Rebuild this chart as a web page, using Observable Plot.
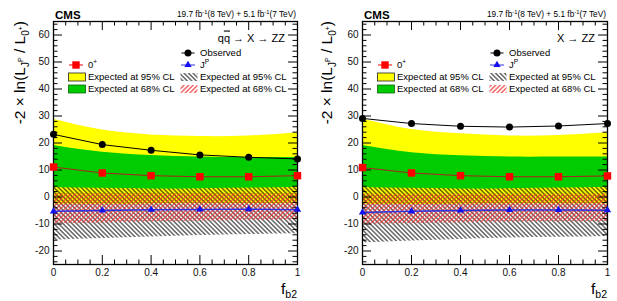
<!DOCTYPE html>
<html><head><meta charset="utf-8">
<script src="https://cdn.jsdelivr.net/npm/d3@7"></script>
<script src="https://cdn.jsdelivr.net/npm/@observablehq/plot@0.6"></script>
<style>
body{margin:0;background:#fff}
#wrap{display:flex;width:617px;height:301px;overflow:hidden}
#wrap svg{display:block;flex:none}
</style>
</head><body>
<svg width="0" height="0" style="position:absolute">
<defs>
<pattern id="hatchK" patternUnits="userSpaceOnUse" width="3.2" height="3.2" patternTransform="rotate(-45)">
<line x1="1.6" y1="-1" x2="1.6" y2="5" stroke="#000" stroke-width="0.9"/>
</pattern>
<pattern id="hatchR" patternUnits="userSpaceOnUse" width="3.2" height="3.2" patternTransform="rotate(45)">
<line x1="1.6" y1="-1" x2="1.6" y2="5" stroke="#f03030" stroke-width="1.1"/>
</pattern>
</defs></svg>
<div id="wrap"></div>
<script>
const FONT = "'Liberation Sans', Arial, Helvetica, sans-serif";

// x values (f_b2)
const fb2 = [0, 0.2, 0.4, 0.6, 0.8, 1];
const xTicksMajor = [0, 0.2, 0.4, 0.6, 0.8, 1];
const xTickLabels = ["0", "0.2", "0.4", "0.6", "0.8", "1"];
const yTicksMajor = [-20, -10, 0, 10, 20, 30, 40, 50, 60];
const yTickLabels = ["-20", "-10", "0", "10", "20", "30", "40", "50", "60"];

// Left panel: q qbar -> X -> ZZ
const obsQQ     = [23.2, 19.4, 17.3, 15.6, 14.7, 14.1];
const zeroQQ    = [11.1, 8.9, 7.9, 7.5, 7.5, 7.9];
const jpQQ      = [-5.3, -5.0, -4.7, -4.6, -4.5, -4.7];
const z95hiQQ   = [28.8, 24.8, 23.0, 22.4, 22.6, 23.8];
const z95loQQ   = [-2.7, -2.7, -2.6, -2.5, -2.5, -2.5];
const z68hiQQ   = [19.1, 16.6, 15.4, 14.8, 14.6, 14.6];
const z68loQQ   = [3.5, 3.2, 3.0, 3.1, 3.3, 3.6];
const j95hiQQ   = [4.0, 3.8, 3.6, 3.7, 3.9, 4.1];
const j95loQQ   = [-16.0, -15.4, -14.8, -14.3, -13.9, -13.6];
const j68hiQQ   = [1.2, 1.2, 1.2, 1.2, 1.2, 1.2];
const j68loQQ   = [-9.9, -9.6, -9.2, -8.9, -8.6, -8.4];

// Right panel: X -> ZZ
const obsZZ     = [29.1, 27.2, 26.2, 25.9, 26.3, 27.2];
const zeroZZ    = [10.9, 8.9, 7.9, 7.5, 7.5, 7.8];
const jpZZ      = [-5.7, -5.3, -5.0, -4.8, -4.8, -4.9];
const z95hiZZ   = [28.9, 25.0, 23.4, 22.6, 22.8, 23.8];
const z95loZZ   = [-2.8, -2.8, -2.7, -2.6, -2.6, -2.6];
const z68hiZZ   = [19.1, 16.4, 15.3, 14.8, 14.8, 14.8];
const z68loZZ   = [3.5, 3.2, 3.0, 3.1, 3.3, 3.6];
const j95hiZZ   = [4.0, 3.8, 3.6, 3.7, 3.9, 4.1];
const j95loZZ   = [-17.0, -16.3, -15.7, -15.2, -14.9, -14.6];
const j68hiZZ   = [1.0, 1.0, 1.0, 1.0, 1.0, 1.0];
const j68loZZ   = [-10.1, -9.8, -9.5, -9.3, -9.2, -9.1];

const legendLabels = {obs: "Observed", zero: "0", jp: "J", e95: "Expected at 95% CL", e68: "Expected at 68% CL"};

function makeRows(obs, zero, jp, z95hi, z95lo, z68hi, z68lo, j95hi, j95lo, j68hi, j68lo) {
  return fb2.map((x, i) => ({x, obs: obs[i], zero: zero[i], jp: jp[i],
    z95hi: z95hi[i], z95lo: z95lo[i], z68hi: z68hi[i], z68lo: z68lo[i],
    j95hi: j95hi[i], j95lo: j95lo[i], j68hi: j68hi[i], j68lo: j68lo[i]}));
}

function annotations(processParts) {
  return (index, scales, values, dims) => {
    const L = dims.marginLeft, R = dims.width - dims.marginRight, T = dims.marginTop;
    const g = d3.create("svg:g").attr("font-family", FONT).attr("fill", "black").attr("text-anchor", "start");
    g.append("text").attr("x", L + 2).attr("y", 18.5).attr("font-weight", "bold").attr("font-size", 11.5).text("CMS");
    const lt = g.append("text").attr("x", R - 1).attr("y", 17).attr("text-anchor", "end").attr("font-size", 8.3);
    lt.append("tspan").text("19.7 fb");
    lt.append("tspan").attr("font-size", 5.8).attr("dy", -3.2).text("-1");
    lt.append("tspan").attr("dy", 3.2).text("(8 TeV) + 5.1 fb");
    lt.append("tspan").attr("font-size", 5.8).attr("dy", -3.2).text("-1");
    lt.append("tspan").attr("dy", 3.2).text("(7 TeV)");
    // process label
    const pt = g.append("text").attr("x", R - 12).attr("y", T + 20.5).attr("text-anchor", "end").attr("font-size", 11);
    processParts.forEach(p => {
      const s = pt.append("tspan").text(p.t);
      if (p.over) s.attr("text-decoration", "overline");
    });
    // y title
    const yt = g.append("text").attr("transform", `translate(25,${T}) rotate(-90)`).attr("text-anchor", "end").attr("font-size", 15.5);
    yt.append("tspan").text("-2 \u00d7 ln(L");
    yt.append("tspan").attr("font-size", 10).attr("dy", 4).text("J");
    yt.append("tspan").attr("font-size", 7).attr("dy", -6).text("P");
    yt.append("tspan").attr("dy", 2).text(" / L");
    yt.append("tspan").attr("font-size", 10).attr("dy", 4).text("0");
    yt.append("tspan").attr("font-size", 7).attr("dy", -6).text("+");
    yt.append("tspan").attr("dy", 2).text(")");
    // x title
    const xt = g.append("text").attr("x", R).attr("y", 294).attr("text-anchor", "end").attr("font-size", 15.5);
    xt.append("tspan").text("f");
    xt.append("tspan").attr("font-size", 10.5).attr("dy", 4).text("b2");
    // legend
    const c1 = L + 23, c2 = L + 135;
    const tx1 = L + 35, tx2 = L + 147;
    const yObs = T + 32, yMk = T + 44, y95 = T + 56, y68 = T + 68;
    const fs = 9.5;
    // Observed
    g.append("line").attr("x1", c2 - 6.5).attr("x2", c2 + 6.5).attr("y1", yObs).attr("y2", yObs).attr("stroke", "black").attr("stroke-width", 1);
    g.append("circle").attr("cx", c2).attr("cy", yObs).attr("r", 3.5).attr("fill", "black");
    g.append("text").attr("x", tx2).attr("y", yObs + 3.4).attr("font-size", fs).text(legendLabels.obs);
    // 0+
    g.append("line").attr("x1", c1 - 7).attr("x2", c1 + 7).attr("y1", yMk).attr("y2", yMk).attr("stroke", "#ff0000").attr("stroke-width", 1);
    g.append("rect").attr("x", c1 - 3.7).attr("y", yMk - 3.7).attr("width", 7.4).attr("height", 7.4).attr("fill", "#ff0000");
    const t0 = g.append("text").attr("x", tx1).attr("y", yMk + 3.4).attr("font-size", fs);
    t0.append("tspan").text(legendLabels.zero);
    t0.append("tspan").attr("font-size", 6.5).attr("dy", -4).text("+");
    // J^P
    g.append("line").attr("x1", c2 - 7).attr("x2", c2 + 7).attr("y1", yMk).attr("y2", yMk).attr("stroke", "#3030e0").attr("stroke-width", 1);
    g.append("path").attr("d", d3.symbol(d3.symbolTriangle, Math.PI * 2.7 * 2.7)()).attr("transform", `translate(${c2},${yMk})`).attr("fill", "#1010f0");
    const tj = g.append("text").attr("x", tx2).attr("y", yMk + 3.4).attr("font-size", fs);
    tj.append("tspan").text(legendLabels.jp);
    tj.append("tspan").attr("font-size", 6.5).attr("dy", -4).text("P");
    // boxes
    g.append("rect").attr("x", L + 15.5).attr("y", y95 - 4).attr("width", 17).attr("height", 8).attr("fill", "#ffff00").attr("stroke", "#222").attr("stroke-width", 0.8);
    g.append("rect").attr("x", L + 15.5).attr("y", y68 - 4).attr("width", 17).attr("height", 8).attr("fill", "#00cc00").attr("stroke", "#116611").attr("stroke-width", 0.8);
    g.append("rect").attr("x", L + 127.5).attr("y", y95 - 4).attr("width", 17).attr("height", 8).attr("fill", "url(#hatchK)");
    g.append("rect").attr("x", L + 127.5).attr("y", y68 - 4).attr("width", 17).attr("height", 8).attr("fill", "url(#hatchR)");
    g.append("text").attr("x", tx1).attr("y", y95 + 3.4).attr("font-size", fs).text(legendLabels.e95);
    g.append("text").attr("x", tx1).attr("y", y68 + 3.4).attr("font-size", fs).text(legendLabels.e68);
    g.append("text").attr("x", tx2).attr("y", y95 + 3.4).attr("font-size", fs).text(legendLabels.e95);
    g.append("text").attr("x", tx2).attr("y", y68 + 3.4).attr("font-size", fs).text(legendLabels.e68);
    return g.node();
  };
}

function panel(rows, width, marginLeft, processParts) {
  const marginRight = 10, marginTop = 21, marginBottom = 37, height = 301;
  const plotW = width - marginLeft - marginRight;
  const plotH = height - marginTop - marginBottom;
  const yMinor = d3.range(-24, 65, 2).filter(v => v % 10 !== 0);
  const xMinor = d3.range(0, 1.0001, 0.05).map(v => +v.toFixed(2)).filter(v => Math.abs(v * 5 - Math.round(v * 5)) > 1e-6);
  const majorLen = 9, minorLen = 4.5;
  return Plot.plot({
    width, height, marginLeft, marginRight, marginTop, marginBottom,
    style: {fontFamily: FONT, fontSize: "10px", color: "black", background: "white", overflow: "visible"},
    x: {domain: [0, 1], label: null},
    y: {domain: [-25, 65], label: null},
    marks: [
      Plot.areaY(rows, {x: "x", y1: "z95lo", y2: "z95hi", fill: "#ffff00", curve: "natural"}),
      Plot.areaY(rows, {x: "x", y1: "j95lo", y2: "j95hi", fill: "url(#hatchK)", curve: "natural"}),
      Plot.areaY(rows, {x: "x", y1: "j68lo", y2: "j68hi", fill: "url(#hatchR)", curve: "natural"}),
      Plot.areaY(rows, {x: "x", y1: "z68lo", y2: "z68hi", fill: "#00cc00", curve: "natural"}),
      Plot.tickY(yTicksMajor, {y: d => d, insetRight: plotW - majorLen, stroke: "black"}),
      Plot.tickY(yTicksMajor, {y: d => d, insetLeft: plotW - majorLen, stroke: "black"}),
      Plot.tickY(yMinor, {y: d => d, insetRight: plotW - minorLen, stroke: "black"}),
      Plot.tickY(yMinor, {y: d => d, insetLeft: plotW - minorLen, stroke: "black"}),
      Plot.tickX(xTicksMajor, {x: d => d, insetTop: plotH - majorLen, stroke: "black"}),
      Plot.tickX(xTicksMajor, {x: d => d, insetBottom: plotH - majorLen, stroke: "black"}),
      Plot.tickX(xMinor, {x: d => d, insetTop: plotH - minorLen, stroke: "black"}),
      Plot.tickX(xMinor, {x: d => d, insetBottom: plotH - minorLen, stroke: "black"}),
      Plot.frame({stroke: "black", strokeWidth: 1.3}),
      Plot.line(rows, {x: "x", y: "obs", stroke: "black", strokeWidth: 1}),
      Plot.line(rows, {x: "x", y: "zero", stroke: "#b02020", strokeWidth: 1}),
      Plot.line(rows, {x: "x", y: "jp", stroke: "#3030e0", strokeWidth: 1.5}),
      Plot.dot(rows, {x: "x", y: "obs", fill: "black", r: 3.5, symbol: "circle"}),
      Plot.dot(rows, {x: "x", y: "zero", fill: "#ff0000", r: 4.2, symbol: "square"}),
      Plot.dot(rows, {x: "x", y: "jp", fill: "#1010f0", r: 2.7, symbol: "triangle"}),
      Plot.axisY({ticks: yTicksMajor, tickSize: 0, tickPadding: 4, fontSize: 10, fill: "#111",
        tickFormat: d => yTickLabels[yTicksMajor.indexOf(d)], label: null}),
      Plot.axisX({ticks: xTicksMajor, tickSize: 0, tickPadding: 4, fontSize: 10, fill: "#111",
        tickFormat: d => xTickLabels[xTicksMajor.indexOf(d)], label: null}),
      annotations(processParts)
    ]
  });
}

const rowsQQ = makeRows(obsQQ, zeroQQ, jpQQ, z95hiQQ, z95loQQ, z68hiQQ, z68loQQ, j95hiQQ, j95loQQ, j68hiQQ, j68loQQ);
const rowsZZ = makeRows(obsZZ, zeroZZ, jpZZ, z95hiZZ, z95loZZ, z68hiZZ, z68loZZ, j95hiZZ, j95loZZ, j68hiZZ, j68loZZ);

const wrap = document.getElementById("wrap");
wrap.appendChild(panel(rowsQQ, 307, 53, [{t: "q"}, {t: "q", over: true}, {t: " \u2192 X \u2192 ZZ"}]));
wrap.appendChild(panel(rowsZZ, 310, 55, [{t: "X \u2192 ZZ"}]));
</script>
</body></html>
